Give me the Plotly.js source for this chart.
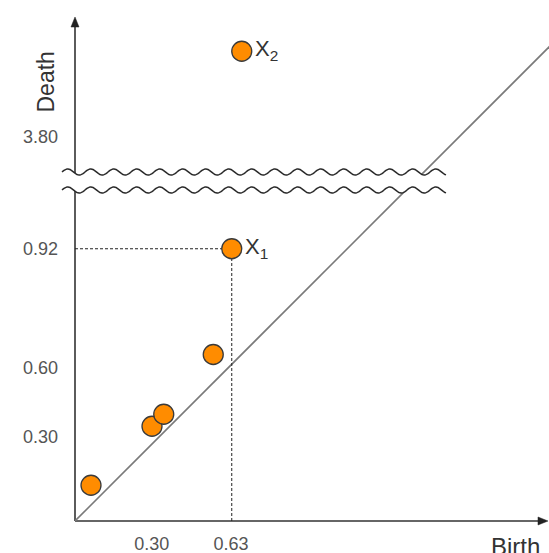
<!DOCTYPE html>
<html>
<head>
<meta charset="utf-8">
<script src="https://cdn.plot.ly/plotly-3.0.1.min.js"></script>
<style>html,body{margin:0;padding:0;background:#fff;}#chart{width:549px;height:553px;}</style>
</head>
<body>
<div id="chart"></div>
<script>
// Points of the persistence diagram (schematic display units)
const births = [0.064, 0.308, 0.355, 0.553, 0.627, 0.667];
const deaths = [0.143, 0.379, 0.427, 0.666, 1.089, 1.879];
const pointLabels = ['', '', '', '', 'X<sub>1</sub>', 'X<sub>2</sub>'];

// Tick positions and labels
const xTickVals = [0.307, 0.624];
const xTickText = ['0.30', '0.63'];
const yTickVals = [0.338, 0.614, 1.09, 1.539];
const yTickText = ['0.30', '0.60', '0.92', '3.80'];

// Diagonal birth = death
const diagX = [0, 1.9];
const diagY = [0, 1.9];

const W = 549, H = 553;
const M = {l: 75, r: 0, t: 15, b: 32};
const PW = W - M.l - M.r, PH = H - M.t - M.b;
const SCALE = 250; // px per unit
const xRange = [0, PW / SCALE];
const yRange = [0, PH / SCALE];

function px2paperX(px) { return (px - M.l) / PW; }
function px2paperY(py) { return (H - M.b - py) / PH; }
function P(px, py) { return px2paperX(px).toFixed(5) + ',' + px2paperY(py).toFixed(5); }

// Wavy break lines (decoration)
function wavePts(cy, x0, x1, amp, period) {
  const pts = [];
  for (let x = x0; x <= x1 + 0.01; x += 1) {
    pts.push([x, cy - amp * Math.sin((x - x0) / period * 2 * Math.PI)]);
  }
  return pts;
}
const topWave = wavePts(172, 62, 446, 3, 23);
const botWave = wavePts(190, 62, 446, 3, 23);
function toPath(pts, start) {
  return pts.map((p, i) => ((i === 0 && start) ? 'M' : 'L') + P(p[0], p[1])).join(' ');
}
const fillPath = toPath(topWave, true) + ' ' + toPath(botWave.slice().reverse(), false) + ' Z';

const i1 = 4;
const shapes = [
  // diagonal
  {type: 'line', xref: 'x', yref: 'y', x0: diagX[0], y0: diagY[0], x1: diagX[1], y1: diagY[1],
   line: {color: '#7a7a7a', width: 1.6}, layer: 'below'},
  // dashed guides to X1
  {type: 'line', xref: 'x', yref: 'y', x0: 0, y0: deaths[i1], x1: births[i1], y1: deaths[i1],
   line: {color: '#222', width: 1, dash: '3px,2px'}, layer: 'below'},
  {type: 'line', xref: 'x', yref: 'y', x0: births[i1], y0: 0, x1: births[i1], y1: deaths[i1],
   line: {color: '#222', width: 1, dash: '3px,2px'}, layer: 'below'},
  // axes
  {type: 'line', xref: 'paper', yref: 'paper', x0: 0, y0: 0, x1: 0, y1: px2paperY(24),
   line: {color: '#333', width: 1.6}, layer: 'below'},
  {type: 'line', xref: 'paper', yref: 'paper', x0: 0, y0: 0, x1: px2paperX(541), y1: 0,
   line: {color: '#333', width: 1.6}, layer: 'below'},
  // arrowheads
  {type: 'path', xref: 'paper', yref: 'paper', path: 'M' + P(75, 17) + ' L' + P(71, 27) + ' L' + P(79, 27) + ' Z',
   fillcolor: '#222', line: {color: '#222', width: 0.5}, layer: 'above'},
  {type: 'path', xref: 'paper', yref: 'paper', path: 'M' + P(548, 521) + ' L' + P(538, 517) + ' L' + P(538, 525) + ' Z',
   fillcolor: '#222', line: {color: '#222', width: 0.5}, layer: 'above'},
  // break: white fill then wavy lines
  {type: 'path', xref: 'paper', yref: 'paper', path: fillPath, fillcolor: '#ffffff',
   line: {width: 0}, layer: 'above'},
  {type: 'path', xref: 'paper', yref: 'paper', path: toPath(topWave, true),
   line: {color: '#2a2a2a', width: 1.5}, layer: 'above'},
  {type: 'path', xref: 'paper', yref: 'paper', path: toPath(botWave, true),
   line: {color: '#2a2a2a', width: 1.5}, layer: 'above'}
];

const annotations = [
  // axis titles
  {xref: 'paper', yref: 'paper', x: px2paperX(30), y: px2paperY(50), text: 'Death', textangle: -90,
   showarrow: false, font: {family: 'Liberation Sans, Arial, sans-serif', size: 23, color: '#333'}},
  {xref: 'paper', yref: 'paper', x: px2paperX(489), y: px2paperY(531), xanchor: 'left', yanchor: 'top',
   text: 'Birth', showarrow: false, font: {family: 'Liberation Sans, Arial, sans-serif', size: 24, color: '#333'}}
];
pointLabels.forEach((t, i) => {
  if (!t) return;
  annotations.push({x: births[i], y: deaths[i], xref: 'x', yref: 'y', text: t, showarrow: false,
    xanchor: 'left', xshift: 11, yshift: 1,
    font: {family: 'Liberation Sans, Arial, sans-serif', size: 22, color: '#333'}});
});

const traces = [{
  type: 'scatter', mode: 'markers', x: births, y: deaths,
  marker: {size: 20, color: '#FF8C00', line: {color: '#3a3a3a', width: 1.3}},
  hoverinfo: 'x+y', cliponaxis: false
}];

const layout = {
  width: W, height: H, margin: M,
  paper_bgcolor: '#fff', plot_bgcolor: '#fff', showlegend: false,
  xaxis: {range: xRange, showgrid: false, zeroline: false, showline: false,
    tickvals: xTickVals, ticktext: xTickText, ticks: '', ticklabelstandoff: 10,
    tickfont: {family: 'Liberation Sans, Arial, sans-serif', size: 18, color: '#555'}},
  yaxis: {range: yRange, showgrid: false, zeroline: false, showline: false,
    tickvals: yTickVals, ticktext: yTickText, ticks: '', ticklabelstandoff: 16,
    tickfont: {family: 'Liberation Sans, Arial, sans-serif', size: 18, color: '#555'}},
  shapes: shapes, annotations: annotations
};

Plotly.newPlot('chart', traces, layout, {displayModeBar: false, staticPlot: true});
</script>
</body>
</html>
